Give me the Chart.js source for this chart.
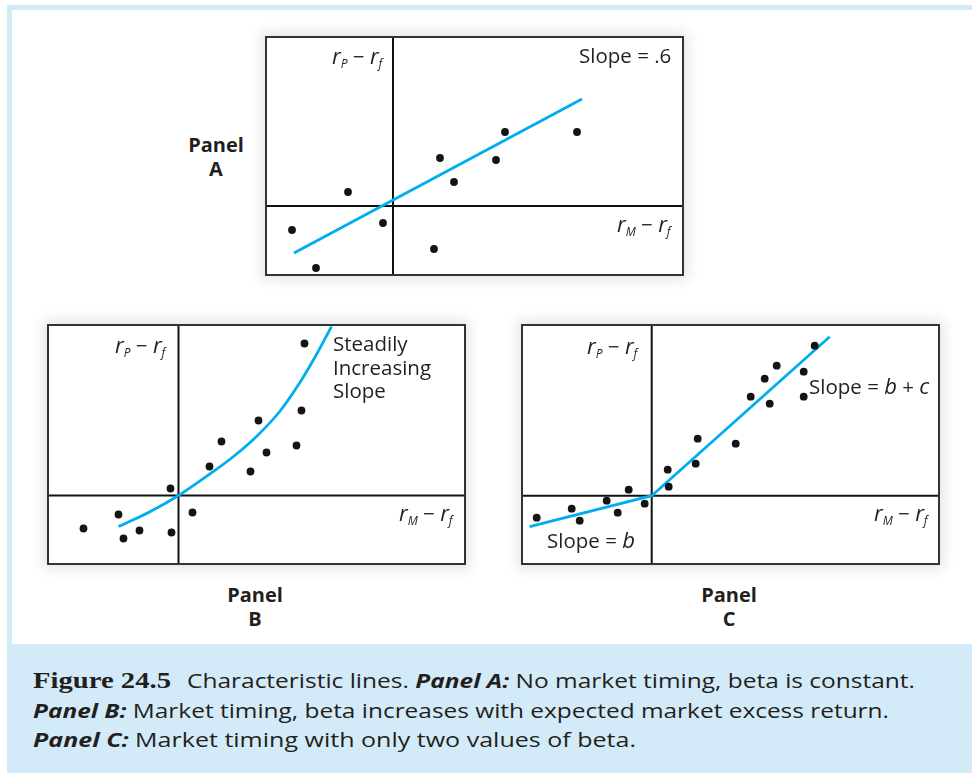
<!DOCTYPE html>
<html>
<head>
<meta charset="utf-8">
<script src="https://cdn.jsdelivr.net/npm/chart.js@4.4.0/dist/chart.umd.min.js"></script>
<style>
html, body { margin: 0; padding: 0; background: #fff; }
body { width: 972px; height: 773px; position: relative; overflow: hidden; font-family: "Open Sans", sans-serif; color: #231f20; }
#frame { position: absolute; left: 7px; top: 5px; right: 0; bottom: 0; background: #d3ebf8; }
#inner { position: absolute; left: 12px; top: 10px; right: 0; height: 634px; background: #fff; }
.box { position: absolute; border: 2px solid #333; background: #fff; box-shadow: 0 0 12px 4px rgba(0,0,0,0.10); }
.box canvas { display: block; }
.t { position: absolute; white-space: nowrap; font-size: 20.5px; line-height: 1; }
.t i { font-size: 22px; }
.t sub { font-size: 12px; vertical-align: -4px; font-style: italic; }
.plabel { position: absolute; width: 100px; text-align: center; font-weight: bold; font-size: 20px; line-height: 24px; }
#caption { position: absolute; left: 33px; top: 666px; font-size: 20px; line-height: 29.5px; }
#caption div { white-space: nowrap; }
.fit { display: inline-block; transform-origin: 0 50%; }
.fig { font-family: "Liberation Serif", serif; font-weight: bold; font-size: 24px; }
</style>
</head>
<body>
<div id="frame"></div>
<div id="inner"></div>

<div class="box" style="left:265px; top:36px;"><canvas id="panelA" width="415" height="236"></canvas></div>
<div class="box" style="left:47px; top:324px;"><canvas id="panelB" width="415" height="237"></canvas></div>
<div class="box" style="left:521px; top:324px;"><canvas id="panelC" width="415" height="237"></canvas></div>

<div class="t" style="left:332px; top:44px;"><i>r</i><sub>P</sub> − <i>r</i><sub>f</sub></div>
<div class="t" style="left:579px; top:45px;">Slope = .6</div>
<div class="t" style="left:617px; top:212px;"><i>r</i><sub>M</sub> − <i>r</i><sub>f</sub></div>

<div class="t" style="left:115px; top:333px;"><i>r</i><sub>P</sub> − <i>r</i><sub>f</sub></div>
<div class="t" style="left:333px; top:332px; line-height:23.5px;">Steadily<br>Increasing<br>Slope</div>
<div class="t" style="left:399px; top:501px;"><i>r</i><sub>M</sub> − <i>r</i><sub>f</sub></div>

<div class="t" style="left:587px; top:334px;"><i>r</i><sub>P</sub> − <i>r</i><sub>f</sub></div>
<div class="t" style="left:809px; top:374px;">Slope = <i>b</i> + <i>c</i></div>
<div class="t" style="left:874px; top:501px;"><i>r</i><sub>M</sub> − <i>r</i><sub>f</sub></div>
<div class="t" style="left:547px; top:528px;">Slope = <i>b</i></div>

<div class="plabel" style="left:166px; top:133px;">Panel<br>A</div>
<div class="plabel" style="left:205px; top:583px;">Panel<br>B</div>
<div class="plabel" style="left:679px; top:583px;">Panel<br>C</div>

<div id="caption">
  <div><span class="fit fig" data-w="138">Figure 24.5</span><span style="display:inline-block;width:16px"></span><span class="fit" data-w="728">Characteristic lines. <b><i>Panel A:</i></b> No market timing, beta is constant.</span></div>
  <div><span class="fit" data-w="856"><b><i>Panel B:</i></b> Market timing, beta increases with expected market excess return.</span></div>
  <div><span class="fit" data-w="603"><b><i>Panel C:</i></b> Market timing with only two values of beta.</span></div>
</div>

<script>
// Panel A: no market timing
var panelA_x = [-10.1, -7.7, -4.5, -1.0, 4.1, 4.7, 6.1, 10.3, 11.2, 18.4];
var panelA_y = [-2.4, -6.2, 1.4, -1.7, -4.3, 4.8, 2.4, 4.6, 7.4, 7.4];
var lineA_x = [-9.9, 18.9];
var lineA_y = [-4.7, 10.7];

// Panel B: steadily increasing slope
var panelB_x = [12.6, 12.3, 8.0, 4.3, 8.8, 11.8, 3.1, 7.2, -0.8, 1.4, -6.0, -9.5, -3.9, -5.5, -0.7];
var panelB_y = [15.2, 8.5, 7.5, 5.4, 4.3, 5.0, 2.9, 2.4, 0.7, -1.7, -1.9, -3.3, -3.5, -4.3, -3.7];
var curveB_x = [-6.0, -3.0, 0, 3.2, 5.5, 7.8, 10.2, 12.2, 13.8, 15.3];
var curveB_y = [-3.1, -1.7, 0, 2.2, 3.9, 5.9, 8.5, 11.4, 14.1, 16.9];

// Panel C: two values of beta
var panelC_x = [16.3, 12.5, 11.3, 15.2, 9.9, 11.8, 15.2, 4.6, 8.4, 1.6, 4.4, 1.7, -2.3, -4.5, -0.7, -3.4, -8.0, -7.2, -11.5];
var panelC_y = [15.0, 13.0, 11.7, 12.4, 9.9, 9.2, 9.9, 5.7, 5.2, 2.6, 3.2, 0.9, 0.6, -0.5, -0.8, -1.7, -1.3, -2.5, -2.2];
var lineC_x = [-12.2, 0, 17.8];
var lineC_y = [-3.1, 0, 15.9];

// axis ranges (x min/max, y min/max)
var rangeA_x = [-12.6, 28.9], rangeA_y = [-6.8, 16.8];
var rangeB_x = [-12.95, 28.55], rangeB_y = [-6.75, 16.95];
var rangeC_x = [-12.87, 28.63], rangeC_y = [-6.73, 16.97];

function zip(xs, ys) {
    var out = [];
    for (var i = 0; i < xs.length; i++) out.push({x: xs[i], y: ys[i]});
    return out;
}

function makePanel(id, rx, ry, dx, dy, lx, ly, curved) {
    new Chart(document.getElementById(id), {
        type: 'scatter',
        data: {
            datasets: [
                { data: zip(dx, dy), pointRadius: 3.9, pointBackgroundColor: '#141414', pointBorderWidth: 0, showLine: false },
                { type: 'line', data: zip(lx, ly), borderColor: '#00aeef', borderWidth: 2.8, pointRadius: 0,
                  cubicInterpolationMode: curved ? 'monotone' : 'default', tension: 0 },
                { type: 'line', data: [{x: rx[0], y: 0}, {x: rx[1], y: 0}], borderColor: '#111', borderWidth: 2, pointRadius: 0 },
                { type: 'line', data: [{x: 0, y: ry[0]}, {x: 0, y: ry[1]}], borderColor: '#111', borderWidth: 2, pointRadius: 0 }
            ]
        },
        options: {
            responsive: false,
            animation: false,
            events: [],
            layout: { padding: 0, autoPadding: false },
            plugins: { legend: { display: false }, tooltip: { enabled: false } },
            scales: {
                x: { type: 'linear', min: rx[0], max: rx[1], display: false },
                y: { type: 'linear', min: ry[0], max: ry[1], display: false }
            }
        }
    });
}

makePanel('panelA', rangeA_x, rangeA_y, panelA_x, panelA_y, lineA_x, lineA_y, false);
makePanel('panelB', rangeB_x, rangeB_y, panelB_x, panelB_y, curveB_x, curveB_y, true);
makePanel('panelC', rangeC_x, rangeC_y, panelC_x, panelC_y, lineC_x, lineC_y, false);

// squeeze caption lines to the printed widths
var fits = document.querySelectorAll('.fit');
for (var i = 0; i < fits.length; i++) {
    var w = fits[i].getBoundingClientRect().width;
    var target = parseFloat(fits[i].getAttribute('data-w'));
    fits[i].style.transform = 'scaleX(' + (target / w) + ')';
    fits[i].style.marginRight = (target - w) + 'px';
}
</script>
</body>
</html>
